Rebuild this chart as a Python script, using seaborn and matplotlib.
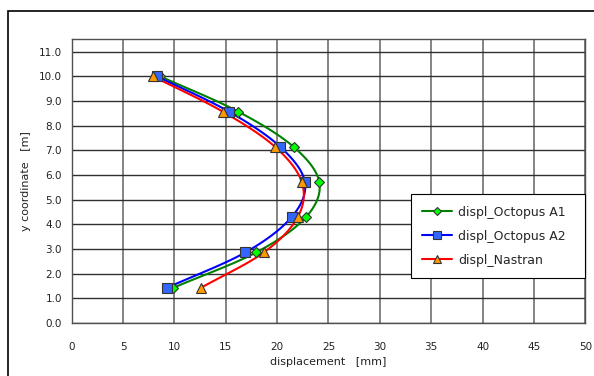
import numpy as np
import pandas as pd
import seaborn as sns
import matplotlib.pyplot as plt
from matplotlib.lines import Line2D
from matplotlib.patches import Rectangle

# y coordinates of the measured points [m]
y_coord = [10.0, 8.57, 7.14, 5.71, 4.29, 2.86, 1.43]

# displacements [mm]
displ_a1 = [8.6, 16.2, 21.6, 24.1, 22.8, 17.95, 9.9]
displ_a2 = [8.3, 15.3, 20.3, 22.7, 21.4, 16.9, 9.3]
displ_nastran = [7.9, 14.7, 19.8, 22.4, 22.0, 18.7, 12.6]

series_names = ['displ_Octopus A1', 'displ_Octopus A2', 'displ_Nastran']
line_colors = ['#008000', '#0000ff', '#ff0000']
marker_fill = ['#00ff00', '#3366ff', '#ff9900']
marker_kind = ['D', 's', '^']
marker_size = [5, 6.5, 7]


def smooth(xs, ys, n=20):
    # catmull-rom curve through the points, like excel's "smoothed line"
    p = np.column_stack([xs, ys]).astype(float)
    p = np.vstack([p[0] - (p[1] - p[0]), p, p[-1] + (p[-1] - p[-2])])
    out = []
    t = np.linspace(0, 1, n, endpoint=False)[:, None]
    for i in range(1, len(p) - 2):
        p0, p1, p2, p3 = p[i - 1], p[i], p[i + 1], p[i + 2]
        seg = 0.5 * ((2 * p1) + (-p0 + p2) * t + (2 * p0 - 5 * p1 + 4 * p2 - p3) * t ** 2
                     + (-p0 + 3 * p1 - 3 * p2 + p3) * t ** 3)
        out.append(seg)
    out.append(p[-2][None, :])
    return np.vstack(out)


sns.set_style('white')
plt.rcParams['font.family'] = ['DejaVu Sans']

fig = plt.figure(figsize=(5.94, 3.76), dpi=100)
ax = fig.add_axes([71.7 / 594, 1 - 323 / 376, (585.3 - 71.7) / 594, (323 - 39.3) / 376])

# outer chart frame (left and top only visible)
fig.patches.append(Rectangle((8 / 594, -0.05), 1.2, 1 - 11 / 376 + 0.05, transform=fig.transFigure,
                             fill=False, edgecolor='black', linewidth=1.2))

handles = []
for name, xs, lc, mf, mk, ms in zip(series_names, [displ_a1, displ_a2, displ_nastran],
                                    line_colors, marker_fill, marker_kind, marker_size):
    curve = smooth(xs, y_coord)
    df = pd.DataFrame({'x': curve[:, 0], 'y': curve[:, 1]})
    sns.lineplot(data=df, x='x', y='y', sort=False, estimator=None, color=lc, linewidth=1.5, ax=ax)
    ax.plot(xs, y_coord, linestyle='none', marker=mk, markersize=ms, markerfacecolor=mf,
            markeredgecolor='#333333', markeredgewidth=0.8, zorder=5)
    handles.append(Line2D([], [], color=lc, linewidth=1.5, marker=mk, markersize=ms - 1,
                          markerfacecolor=mf, markeredgecolor='#333333', markeredgewidth=0.8, label=name))

ax.set_xlim(0, 50)
ax.set_ylim(0, 11.5)
ax.set_xticks(np.arange(0, 51, 5))
ax.set_yticks(np.arange(0, 11.1, 1))
ax.set_yticklabels([f'{v:.1f}' for v in np.arange(0, 11.1, 1)])
ax.xaxis.grid(True, color='#707070', linewidth=1.2)
ax.yaxis.grid(True, color='#303030', linewidth=1.0)
ax.set_axisbelow(True)
for s in ax.spines.values():
    s.set_color('#505050')
    s.set_linewidth(1.0)
ax.tick_params(axis='both', which='both', direction='out', length=4, width=0.8, color='#333333',
               labelsize=7.5, labelcolor='#222222', pad=10)
ax.tick_params(axis='y', pad=3)
ax.set_xlabel('displacement   [mm]', fontsize=8, color='#222222', labelpad=3)
ax.set_ylabel('y coordinate   [m]', fontsize=8, color='#222222', labelpad=6)

leg = ax.legend(handles=handles, loc='lower left', bbox_to_anchor=(0.661, 0.159, 0.339, 0.289),
                mode='expand', borderaxespad=0, fontsize=9,
                frameon=True, fancybox=False, edgecolor='black', framealpha=1,
                handlelength=2.4, borderpad=0.9, labelspacing=0.88, handletextpad=0.45)
leg.get_frame().set_linewidth(0.8)

fig.savefig('out.png', dpi=100)
